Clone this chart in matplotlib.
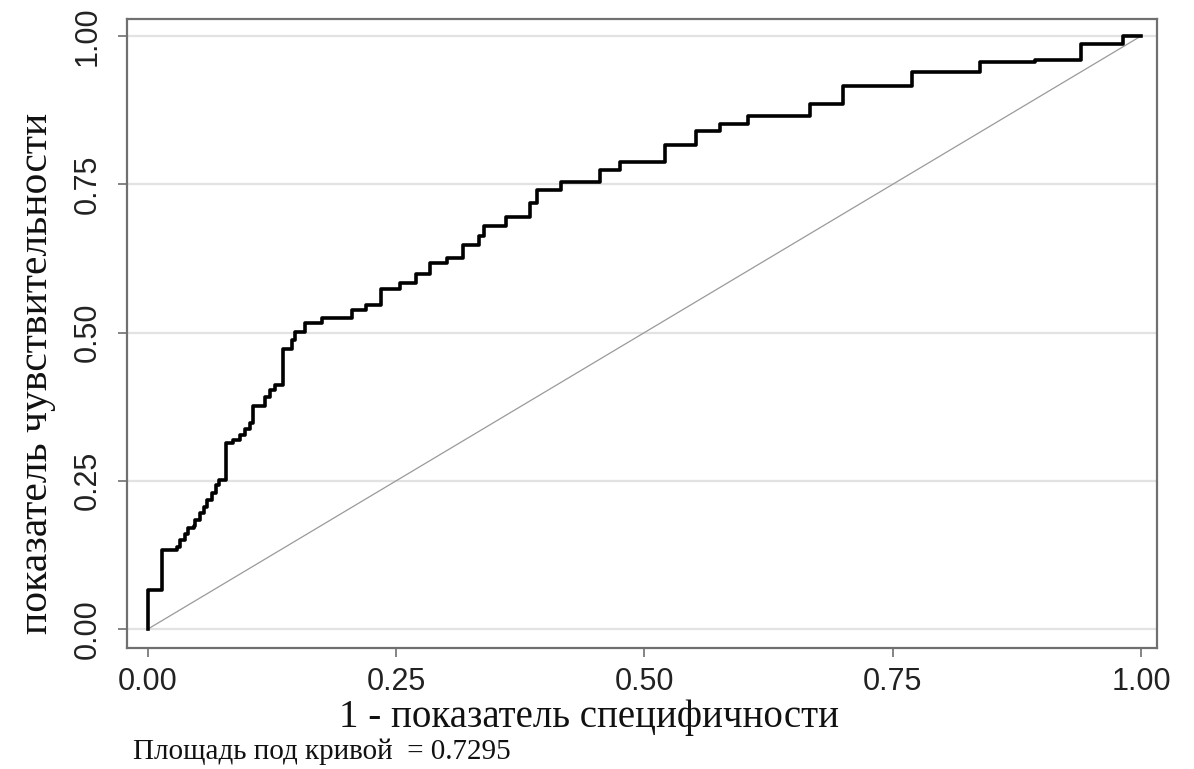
import matplotlib
matplotlib.use("Agg")
import matplotlib.pyplot as plt

# ROC curve corner points (1 - specificity, sensitivity), top of each vertical step
fpr = [0.000, 0.000, 0.0138, 0.029, 0.032, 0.037, 0.040, 0.046, 0.047, 0.052,
       0.056, 0.059, 0.064, 0.069, 0.072, 0.079, 0.086, 0.093, 0.098, 0.103,
       0.106, 0.118, 0.118, 0.123, 0.128, 0.136, 0.145, 0.148, 0.158, 0.175,
       0.205, 0.220, 0.235, 0.254, 0.270, 0.284, 0.301, 0.317, 0.333, 0.338,
       0.361, 0.385, 0.392, 0.416, 0.455, 0.475, 0.521, 0.552, 0.576, 0.604,
       0.667, 0.700, 0.769, 0.838, 0.893, 0.940, 0.982, 1.000]
tpr = [0.000, 0.066, 0.133, 0.139, 0.150, 0.161, 0.170, 0.173, 0.184, 0.195,
       0.206, 0.218, 0.229, 0.243, 0.251, 0.313, 0.319, 0.327, 0.338, 0.347,
       0.376, 0.381, 0.392, 0.403, 0.411, 0.473, 0.487, 0.501, 0.516, 0.524,
       0.538, 0.546, 0.574, 0.583, 0.599, 0.617, 0.625, 0.648, 0.662, 0.679,
       0.695, 0.718, 0.740, 0.753, 0.774, 0.788, 0.816, 0.839, 0.852, 0.865,
       0.885, 0.916, 0.940, 0.957, 0.960, 0.986, 1.000, 1.000]
ticks = [0.0, 0.25, 0.5, 0.75, 1.0]
tick_labels = ["0.00", "0.25", "0.50", "0.75", "1.00"]
auc = 0.7295

W, H = 1194, 769
fig = plt.figure(figsize=(W / 100, H / 100), dpi=100)
ax = fig.add_axes([127 / W, 1 - 648 / H, (1157 - 127) / W, (648 - 19) / H])

# light horizontal grid lines at the y ticks
for t in ticks:
    ax.axhline(t, color="#e2e2e2", lw=1.6, zorder=0)

ax.plot([0, 1], [0, 1], color="#9a9a9a", lw=0.9, zorder=1)
ax.plot(fpr, tpr, color="black", lw=2.6, drawstyle="steps-post", zorder=2)

ax.set_xlim(-0.0211, 1.0161)
ax.set_ylim(-0.032, 1.0287)

for s in ax.spines.values():
    s.set_color("#707070")
    s.set_linewidth(1.6)

ax.set_xticks(ticks)
ax.set_xticklabels(tick_labels, family="Liberation Sans", fontsize=22, color="#222222")
ax.set_yticks(ticks)
ax.set_yticklabels(tick_labels, family="Liberation Sans", fontsize=22, color="#222222",
                   rotation=90, va="center")
ax.tick_params(axis="x", length=6.5, width=1.2, color="#707070", pad=7)
ax.tick_params(axis="y", length=6.5, width=1.2, color="#707070", pad=11)

fig.text(589 / W, 1 - 718 / H, "1 - показатель специфичности", family="Liberation Serif",
         fontsize=28, ha="center", va="center", color="#111111")
fig.text(37 / W, 1 - 373 / H, "показатель чувствительности", family="Liberation Serif",
         fontsize=30, rotation=90, ha="center", va="center", color="#111111")
fig.text(133 / W, 1 - 752 / H, "Площадь под кривой  = %.4f" % auc, family="Liberation Serif",
         fontsize=21, ha="left", va="center", color="#111111")

fig.savefig("out.png", dpi=100, facecolor="white")
